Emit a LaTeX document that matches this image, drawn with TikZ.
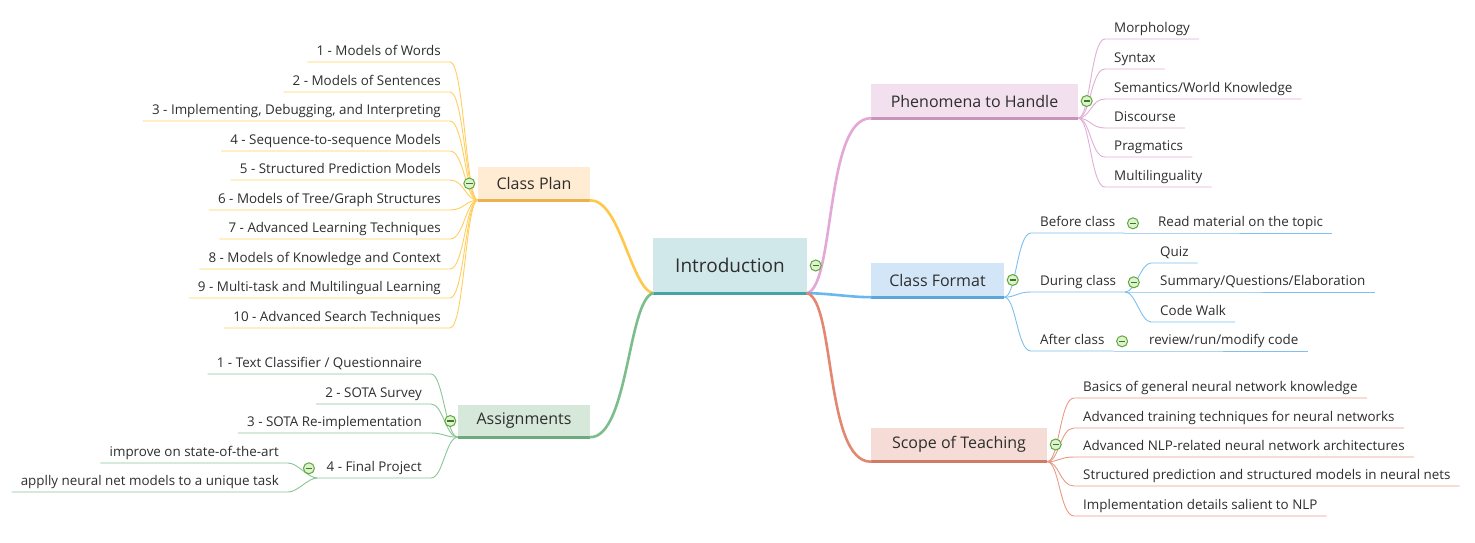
\documentclass[tikz,border=0pt]{standalone}
\usepackage{fontspec}
\setmainfont{Open Sans}
\usetikzlibrary{positioning}

\definecolor{ink}{HTML}{2E2E2E}
\definecolor{rootfill}{HTML}{D1E8EA}
\definecolor{rootbar}{HTML}{45A4A4}
\definecolor{planfill}{HTML}{FFECD2}
\definecolor{planbar}{HTML}{E8B24F}
\definecolor{planline}{HTML}{FFC84B}
\definecolor{plantwig}{HTML}{FFCF5E}
\definecolor{assignfill}{HTML}{D6E8D9}
\definecolor{assignbar}{HTML}{6EAA7E}
\definecolor{assignline}{HTML}{7CBE8B}
\definecolor{assigntwig}{HTML}{8AC697}
\definecolor{phenfill}{HTML}{F2E0EF}
\definecolor{phenbar}{HTML}{C894BE}
\definecolor{phenline}{HTML}{E2A8D6}
\definecolor{phentwig}{HTML}{E2AED8}
\definecolor{fmtfill}{HTML}{D3E6F8}
\definecolor{fmtbar}{HTML}{5EA6DA}
\definecolor{fmtline}{HTML}{68B7EF}
\definecolor{fmttwig}{HTML}{7EC0EF}
\definecolor{scopefill}{HTML}{F6DCD6}
\definecolor{scopebar}{HTML}{D07B66}
\definecolor{scopeline}{HTML}{E48771}
\definecolor{scopetwig}{HTML}{E99A86}
\definecolor{foldline}{HTML}{5FA83A}
\definecolor{foldfill}{HTML}{DDF2CF}

\begin{document}
\begin{tikzpicture}[
    x=1pt, y=-1pt,
    node distance=2.5pt,
    every node/.style={text=ink},
    topic/.style={fill=#1, inner sep=0pt, minimum height=34, font=\fontsize{16}{19}\selectfont},
    leaf/.style={inner xsep=9, inner ysep=3, text height=10, text depth=3, font=\fontsize{13.4}{16}\selectfont},
    fold/.style={circle, draw=foldline, fill=foldfill, line width=1, minimum size=11, inner sep=0pt,
      path picture={\draw[foldline!70!black, line width=1.3] ([xshift=-3.2pt]path picture bounding box.center) -- ([xshift=3.2pt]path picture bounding box.center);}},
    bar/.style={line width=3},
    branch/.style={line width=2.6, line cap=round},
    twig/.style={line width=0.9}
  ]
  % page
  \fill[white] (0,0) rectangle (1475,543);
  \useasboundingbox (0,0) rectangle (1475,543);

  % central topic
  \node[topic=rootfill, minimum width=154, minimum height=55, font=\fontsize{19}{23}\selectfont] (intro) at (730,265.5) {Introduction};
  \draw[bar, rootbar] (intro.south west) -- (intro.south east);

  % main topics
  \node[topic=planfill, minimum width=112, minimum height=33] (plan) at (534,183.5) {Class Plan};
  \node[topic=assignfill, minimum width=132, minimum height=32] (assign) at (524,421) {Assignments};
  \node[topic=phenfill, minimum width=207] (phen) at (974.5,101) {Phenomena to Handle};
  \node[topic=fmtfill, minimum width=133] (fmt) at (937.5,280) {Class Format};
  \node[topic=scopefill, minimum width=176] (scope) at (959,444.5) {Scope of Teaching};
  \foreach \t/\c in {plan/planbar, assign/assignbar, phen/phenbar, fmt/fmtbar, scope/scopebar}
    \draw[bar, \c] (\t.south west) -- (\t.south east);

  % main branches
  \draw[branch, planline] (intro.south west) .. controls +(-22,-6) and +(30,0) .. (plan.south east);
  \draw[branch, assignline] (intro.south west) .. controls +(-25,8) and +(38,0) .. (assign.south east);
  \draw[branch, phenline] (intro.south east) .. controls +(28,-8) and +(-46,0) .. (phen.south west);
  \draw[branch, fmtline] (intro.south east) .. controls +(20,0) and +(-20,0) .. (fmt.south west);
  \draw[branch, scopeline] (intro.south east) .. controls +(28,8) and +(-46,0) .. (scope.south west);

  % Class Plan items
  \foreach \i/\y/\txt in {
      1/62/{1 - Models of Words},
      2/92/{2 - Models of Sentences},
      3/121/{3 - Implementing, Debugging, and Interpreting},
      4/151/{4 - Sequence-to-sequence Models},
      5/180/{5 - Structured Prediction Models},
      6/210/{6 - Models of Tree/Graph Structures},
      7/239/{7 - Advanced Learning Techniques},
      8/269/{8 - Models of Knowledge and Context},
      9/298/{9 - Multi-task and Multilingual Learning},
      10/328/{10 - Advanced Search Techniques}} {
    \node[leaf, anchor=south east] (plan\i) at (450,\y) {\txt};
    \draw[twig, plantwig] (plan.south west) .. controls +(-12,0) and +(14,0) .. (plan\i.south east) -- (plan\i.south west);
  }

  % Assignments items
  \foreach \i/\y/\txt in {
      1/374/{1 - Text Classifier / Questionnaire},
      2/404/{2 - SOTA Survey},
      3/433/{3 - SOTA Re-implementation},
      4/478/{4 - Final Project}} {
    \node[leaf, anchor=south east] (assign\i) at (431,\y) {\txt};
    \draw[twig, assigntwig] (assign.south west) .. controls +(-12,0) and +(12,0) .. (assign\i.south east) -- (assign\i.south west);
  }
  \foreach \i/\y/\txt in {
      1/463/{improve on state-of-the-art},
      2/492/{applly neural net models to a unique task}} {
    \node[leaf, anchor=south east] (final\i) at (288,\y) {\txt};
    \draw[twig, assigntwig] (assign4.south west) .. controls +(-10,0) and +(10,0) .. (final\i.south east) -- (final\i.south west);
  }

  % Phenomena items
  \foreach \i/\y/\txt in {
      1/39/Morphology,
      2/69/Syntax,
      3/99/{Semantics/World Knowledge},
      4/128/Discourse,
      5/157/Pragmatics,
      6/187/Multilinguality} {
    \node[leaf, anchor=south west] (phen\i) at (1105,\y) {\txt};
    \draw[twig, phentwig] (phen.south east) .. controls +(12,0) and +(-14,0) .. (phen\i.south west) -- (phen\i.south east);
  }

  % Class Format items
  \node[leaf, anchor=south west] (before) at (1031,233) {Before class};
  \node[leaf, anchor=south west] (during) at (1031,292) {During class};
  \node[leaf, anchor=south west] (after) at (1031,351) {After class};
  \foreach \n in {before, during, after}
    \draw[twig, fmttwig] (fmt.south east) .. controls +(12,0) and +(-14,0) .. (\n.south west) -- (\n.south east);

  \node[leaf, anchor=south west] (read) at (1149,233) {Read material on the topic};
  \draw[twig, fmttwig] (before.south east) -- (read.south west) -- (read.south east);
  \node[leaf, anchor=south west] (review) at (1140,351) {review/run/modify code};
  \draw[twig, fmttwig] (after.south east) -- (review.south west) -- (review.south east);
  \foreach \i/\y/\txt in {1/263/Quiz, 2/292/{Summary/Questions/Elaboration}, 3/322/Code Walk} {
    \node[leaf, anchor=south west] (during\i) at (1151,\y) {\txt};
    \draw[twig, fmttwig] (during.south east) .. controls +(10,0) and +(-10,0) .. (during\i.south west) -- (during\i.south east);
  }

  % Scope items
  \foreach \i/\y/\txt in {
      1/398/{Basics of general neural network knowledge},
      2/428/{Advanced training techniques for neural networks},
      3/457/{Advanced NLP-related neural network architectures},
      4/486/{Structured prediction and structured models in neural nets},
      5/516/{Implementation details salient to NLP}} {
    \node[leaf, anchor=south west] (scope\i) at (1074,\y) {\txt};
    \draw[twig, scopetwig] (scope.south east) .. controls +(12,0) and +(-14,0) .. (scope\i.south west) -- (scope\i.south east);
  }

  % fold marks
  \node[fold, right=of intro] (introfold) {};
  \node[fold, left=of plan] (planfold) {};
  \node[fold, left=1.5pt of assign] (assignfold) {};
  \node[fold, left=of assign4] (assign4fold) {};
  \node[fold, right=of phen] (phenfold) {};
  \node[fold, right=of fmt] (fmtfold) {};
  \node[fold, right=of scope] (scopefold) {};
  \node[fold, right=of before] (beforefold) {};
  \node[fold, right=of during] (duringfold) {};
  \node[fold, right=of after] (afterfold) {};
\end{tikzpicture}
\end{document}
